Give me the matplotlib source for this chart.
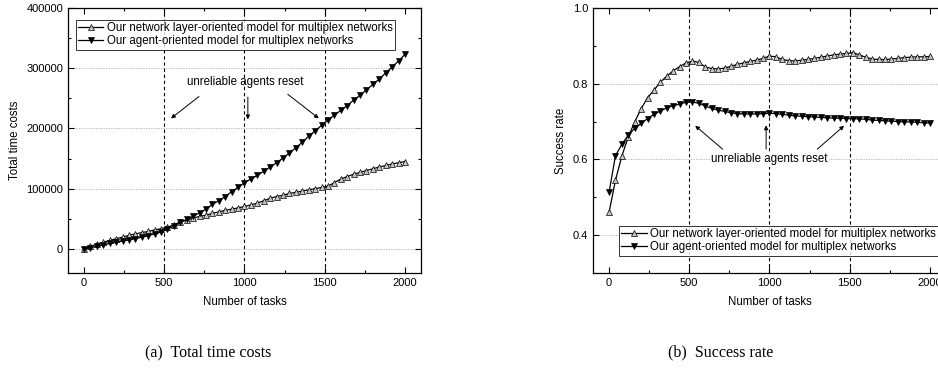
import matplotlib
matplotlib.use("Agg")
import matplotlib.pyplot as plt
from matplotlib.ticker import MultipleLocator
import numpy as np

plt.rcParams["font.family"] = ["Liberation Sans", "DejaVu Sans"]

# tasks sampled every 40 (0..2000)
TASKS = np.arange(0, 2001, 40)

COST_LAYER = [0, 4000, 8000, 11000, 14000, 17000, 19500, 22500, 25000, 27000,
              29000, 31500, 33500, 36000, 40000, 45000, 48000, 51000, 54000, 56000,
              59000, 61500, 64000, 66000, 68000, 70500, 73000, 76000, 80000, 84000,
              87000, 89000, 92000, 94000, 96000, 98000, 100000, 102000, 104000, 110000,
              116000, 120000, 124000, 127000, 130000, 133000, 136000, 138500, 141000, 143000,
              145000]
COST_AGENT = [0, 2000, 4000, 6500, 9000, 11000, 13000, 15000, 17000, 19500,
              22000, 25000, 28500, 33000, 38000, 44000, 49000, 54000, 60000, 66000,
              74000, 80000, 87000, 95000, 102000, 110000, 116000, 122000, 129000, 136000,
              143000, 151000, 159000, 168000, 177000, 187000, 196000, 205000, 214000, 222000,
              230000, 238000, 247000, 255000, 264000, 273000, 282000, 292000, 302000, 312000,
              323000]

RATE_LAYER = [0.46, 0.545, 0.609, 0.66, 0.699, 0.734, 0.763, 0.783, 0.804, 0.82,
              0.834, 0.845, 0.855, 0.86, 0.856, 0.844, 0.84, 0.839, 0.841, 0.846,
              0.851, 0.855, 0.859, 0.862, 0.867, 0.873, 0.871, 0.864, 0.861, 0.86,
              0.862, 0.864, 0.867, 0.87, 0.873, 0.876, 0.878, 0.88, 0.882, 0.876,
              0.87, 0.865, 0.864, 0.864, 0.865, 0.867, 0.869, 0.87, 0.871, 0.871,
              0.872]
RATE_AGENT = [0.513, 0.61, 0.64, 0.664, 0.682, 0.695, 0.708, 0.719, 0.728, 0.736,
              0.742, 0.746, 0.751, 0.752, 0.748, 0.741, 0.735, 0.73, 0.727, 0.723,
              0.721, 0.72, 0.72, 0.72, 0.721, 0.722, 0.721, 0.719, 0.717, 0.715,
              0.714, 0.713, 0.712, 0.711, 0.71, 0.709, 0.709, 0.708, 0.708, 0.707,
              0.706, 0.704, 0.703, 0.702, 0.701, 0.7, 0.699, 0.699, 0.698, 0.697,
              0.696]

RESETS = [500, 1000, 1500]
LBL_LAYER = "Our network layer-oriented model for multiplex networks"
LBL_AGENT = "Our agent-oriented model for multiplex networks"
NOTE = "unreliable agents reset"

FS = 8.3


def style(ax):
    ax.tick_params(which="both", direction="in", top=True, right=True, labelsize=FS - 0.3)
    ax.tick_params(which="major", length=4, width=0.8)
    ax.tick_params(which="minor", length=2.5, width=0.8)
    for s in ax.spines.values():
        s.set_linewidth(0.9)
    ax.xaxis.set_major_locator(MultipleLocator(500))
    ax.xaxis.set_minor_locator(MultipleLocator(250))
    for x in RESETS:
        ax.axvline(x, color="black", ls=(0, (3, 2.5)), lw=0.8, zorder=1)


def series(ax, y1, y2):
    ax.plot(TASKS, y1, color="black", lw=0.9, marker="^", ms=5, mfc="#c4c4c4",
            mec="black", mew=0.5, label=LBL_LAYER, zorder=3)
    ax.plot(TASKS, y2, color="black", lw=0.9, marker="v", ms=5, mfc="black",
            mec="black", mew=0.5, label=LBL_AGENT, zorder=3)


arrow = dict(arrowstyle="-|>", lw=0.7, color="black", mutation_scale=6,
             shrinkA=0, shrinkB=0)

fig = plt.figure(figsize=(9.38, 3.73), dpi=100)

# (a) total time costs
ax1 = fig.add_axes([0.0725, 0.2681, 0.3763, 0.7105])
style(ax1)
for y in [0, 100000, 200000, 300000]:
    ax1.axhline(y, color="#b0b0b0", ls=(0, (1.5, 1.5)), lw=0.6, zorder=0)
series(ax1, COST_LAYER, COST_AGENT)
ax1.set_xlim(-100, 2100)
ax1.set_ylim(-40000, 400000)
ax1.yaxis.set_major_locator(MultipleLocator(100000))
ax1.yaxis.set_minor_locator(MultipleLocator(50000))
ax1.set_xlabel("Number of tasks", fontsize=FS, labelpad=6)
ax1.set_ylabel("Total time costs", fontsize=FS, labelpad=4)
ax1.text(1003, 277000, NOTE, ha="center", va="center", fontsize=FS)
ax1.annotate("", xy=(542, 216700), xytext=(716, 253000), arrowprops=arrow)
ax1.annotate("", xy=(1021, 215000), xytext=(1021, 252000), arrowprops=arrow)
ax1.annotate("", xy=(1463, 216700), xytext=(1270, 256700), arrowprops=arrow)
lg1 = ax1.legend(loc="upper left", bbox_to_anchor=(0.022, 0.955), fontsize=FS,
                 frameon=True, fancybox=False, edgecolor="black", borderpad=0.2,
                 labelspacing=0.1, handlelength=2.2, handletextpad=0.3,
                 borderaxespad=0)
lg1.get_frame().set_linewidth(0.7)

# (b) success rate
ax2 = fig.add_axes([0.6322, 0.2681, 0.3763, 0.7105])
style(ax2)
for y in [0.4, 0.6, 0.8]:
    ax2.axhline(y, color="#b0b0b0", ls=(0, (1.5, 1.5)), lw=0.6, zorder=0)
series(ax2, RATE_LAYER, RATE_AGENT)
ax2.set_xlim(-100, 2100)
ax2.set_ylim(0.3, 1.0)
ax2.yaxis.set_major_locator(MultipleLocator(0.2))
ax2.yaxis.set_minor_locator(MultipleLocator(0.1))
ax2.set_xlabel("Number of tasks", fontsize=FS, labelpad=6)
ax2.set_ylabel("Success rate", fontsize=FS, labelpad=4)
ax2.text(1000, 0.6, NOTE, ha="center", va="center", fontsize=FS,
         bbox=dict(facecolor="white", edgecolor="none", pad=1))
ax2.annotate("", xy=(537, 0.689), xytext=(708, 0.627), arrowprops=arrow)
ax2.annotate("", xy=(979, 0.69), xytext=(979, 0.627), arrowprops=arrow)
ax2.annotate("", xy=(1465, 0.689), xytext=(1298, 0.627), arrowprops=arrow)
lg2 = ax2.legend(loc="lower left", bbox_to_anchor=(0.074, 0.066), fontsize=FS,
                 frameon=True, fancybox=False, edgecolor="black", borderpad=0.2,
                 labelspacing=0.1, handlelength=2.2, handletextpad=0.3,
                 borderaxespad=0)
lg2.get_frame().set_linewidth(0.7)

fig.text(0.222, 0.055, "(a)  Total time costs", ha="center", va="center",
         fontsize=11.5, family="Liberation Serif")
fig.text(0.768, 0.055, "(b)  Success rate", ha="center", va="center",
         fontsize=11.5, family="Liberation Serif")

fig.savefig("out.png", dpi=100)
